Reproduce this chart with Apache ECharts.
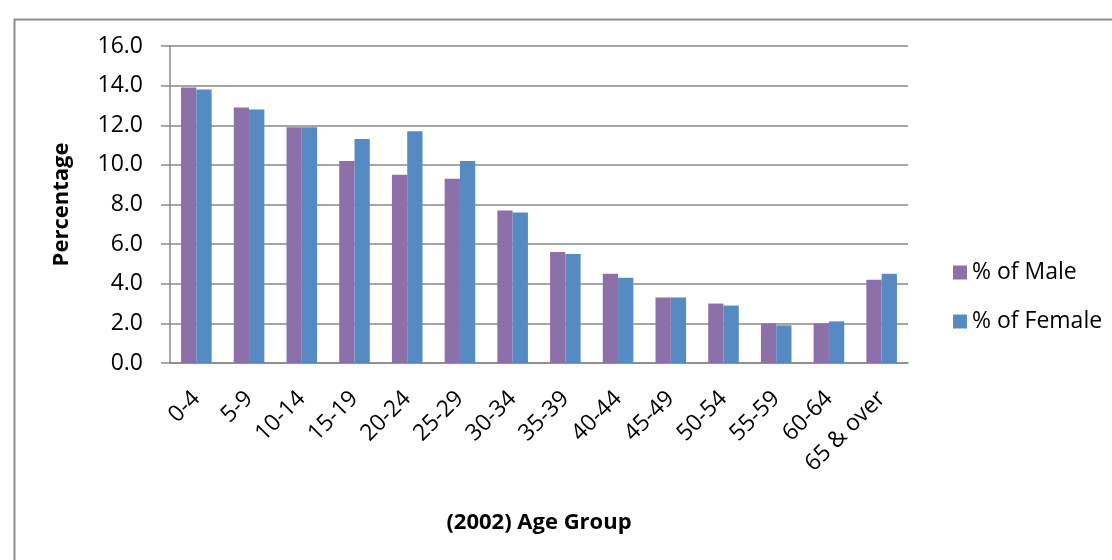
<!DOCTYPE html>
<html>
<head>
<meta charset="utf-8">
<script src="https://cdn.jsdelivr.net/npm/echarts@6/dist/echarts.min.js"></script>
<style>html,body{margin:0;padding:0;background:#fff;}#c{width:1112px;height:560px;}</style>
</head>
<body>
<div id="c"></div>
<script>
const categories = ['0-4','5-9','10-14','15-19','20-24','25-29','30-34','35-39','40-44','45-49','50-54','55-59','60-64','65 & over'];
const male = [13.9, 12.9, 11.9, 10.2, 9.5, 9.3, 7.7, 5.6, 4.5, 3.3, 3.0, 2.0, 2.0, 4.2];
const female = [13.8, 12.8, 11.9, 11.3, 11.7, 10.2, 7.6, 5.5, 4.3, 3.3, 2.9, 1.9, 2.1, 4.5];
const seriesNames = ['% of Male', '% of Female'];

const FONT = '"Open Sans", "DejaVu Sans", sans-serif';
const GRAY = '#898989';
const chart = echarts.init(document.getElementById('c'));
chart.setOption({
  animation: false,
  backgroundColor: '#fff',
  textStyle: { fontFamily: FONT, color: '#000' },
  graphic: [{
    type: 'rect', left: 12, top: 17, silent: true,
    shape: { x: 0, y: 0, width: 1200, height: 700 },
    style: { fill: 'none', stroke: '#8e8e8e', lineWidth: 2 }
  }],
  grid: { left: 170, right: 204, top: 46, bottom: 197, containLabel: false },
  legend: {
    orient: 'vertical', left: 948, top: 256, itemGap: 26,
    itemWidth: 14, itemHeight: 14, icon: 'rect',
    textStyle: { fontFamily: FONT, fontSize: 23, color: '#000', lineHeight: 23 },
    data: seriesNames
  },
  xAxis: {
    type: 'category', data: categories,
    name: '(2002) Age Group', nameLocation: 'middle', nameGap: 149,
    nameTextStyle: { fontFamily: FONT, fontSize: 22, fontWeight: 'bold', color: '#000' },
    axisLine: { lineStyle: { color: GRAY, width: 1.5 } },
    axisTick: { show: false },
    axisLabel: { rotate: 45, margin: 32, fontFamily: FONT, fontSize: 23, color: '#000', interval: 0 }
  },
  yAxis: {
    type: 'value', min: 0, max: 16, interval: 2,
    name: 'Percentage', nameLocation: 'middle', nameRotate: 90, nameGap: 97,
    nameTextStyle: { fontFamily: FONT, fontSize: 22, fontWeight: 'bold', color: '#000' },
    axisLine: { show: true, lineStyle: { color: GRAY, width: 1.5 } },
    axisTick: { show: true, length: 9, lineStyle: { color: GRAY, width: 1.5 } },
    splitLine: { lineStyle: { color: GRAY, width: 1.5 } },
    axisLabel: { margin: 27, fontFamily: FONT, fontSize: 23, color: '#000', formatter: v => v.toFixed(1) }
  },
  series: [
    { name: seriesNames[0], type: 'bar', data: male, barGap: '0%', barCategoryGap: '42%',
      itemStyle: { color: '#8B70A9' } },
    { name: seriesNames[1], type: 'bar', data: female, barGap: '0%', barCategoryGap: '42%',
      itemStyle: { color: '#568AC2' } }
  ]
});
</script>
</body>
</html>
